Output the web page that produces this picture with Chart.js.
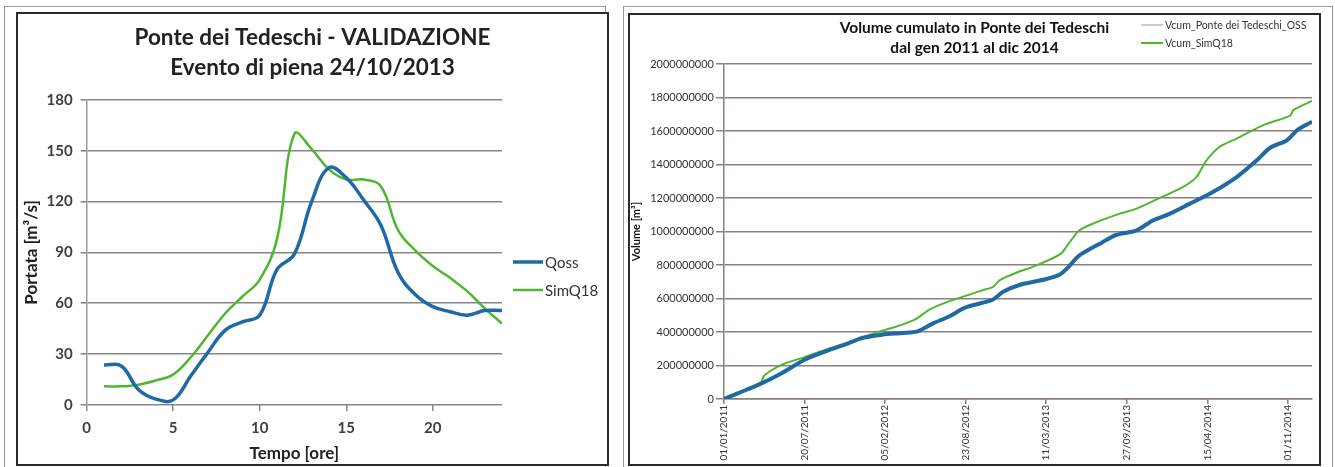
<!DOCTYPE html>
<html>
<head>
<meta charset="utf-8">
<script src="https://cdn.jsdelivr.net/npm/chart.js@4/dist/chart.umd.min.js"></script>
<style>
  body { margin: 0; background: #fff; width: 1335px; height: 467px; overflow: hidden; position: relative; }
  .outer { position: absolute; border: 1px solid #9a9a9a; }
  .frame { position: absolute; border: 2px solid #2b2b2b; background: #fff; }
  canvas { position: absolute; }
</style>
</head>
<body>
<div class="outer" style="left:4px;top:6px;width:600px;height:470px;"></div>
<div class="outer" style="left:623px;top:6px;width:708px;height:470px;"></div>
<div class="frame" style="left:16px;top:12px;width:589px;height:450px;"></div>
<div class="frame" style="left:628px;top:13px;width:689px;height:449px;"></div>
<canvas id="chartPiena" style="left:18px;top:14px;" width="589" height="450"></canvas>
<canvas id="chartVolume" style="left:630px;top:15px;" width="689" height="449"></canvas>
<script>
// ----- dati grafico sinistro (evento di piena) -----
var ore = [1, 2, 3, 4, 5, 6, 7, 8, 9, 10, 11, 12, 13, 14, 15, 16, 17, 18, 19, 20, 21, 22, 23, 24];
var qoss = [23.6, 23, 9, 3.5, 3, 17, 31, 44, 49, 53, 80, 89, 120, 140, 134, 121, 106, 78, 65, 58, 55, 53, 55.7, 55.7];
var simQ18 = [11, 11, 12, 14.5, 18, 28, 41, 54, 64, 74, 98, 160, 151, 139, 133, 133, 129, 103, 91, 82, 75, 67, 57, 48];

// ----- dati grafico destro (volume cumulato) -----
var giorniOss = [0, 40, 85, 143, 200, 252, 310, 343, 393, 443, 481, 518, 560, 598, 643, 668, 693, 739, 798, 835, 858, 881, 939, 973, 1023, 1064, 1106, 1156, 1206, 1273, 1323, 1356, 1398, 1423, 1448, 1460];
var volOss = [0, 40e6, 84e6, 154e6, 234e6, 284e6, 334e6, 364e6, 384e6, 394e6, 404e6, 450e6, 494e6, 545e6, 575e6, 594e6, 640e6, 685e6, 715e6, 745e6, 795e6, 855e6, 935e6, 979e6, 1005e6, 1065e6, 1105e6, 1165e6, 1225e6, 1325e6, 1425e6, 1500e6, 1545e6, 1605e6, 1640e6, 1655e6];
var giorniSim = [0, 50, 90, 100, 143, 200, 252, 310, 355, 402, 443, 477, 510, 560, 598, 643, 668, 685, 727, 773, 835, 858, 881, 914, 981, 1023, 1081, 1139, 1173, 1198, 1231, 1273, 1339, 1406, 1414, 1460];
var volSim = [0, 50e6, 92e6, 140e6, 204e6, 250e6, 294e6, 338e6, 378e6, 414e6, 444e6, 478e6, 534e6, 584e6, 614e6, 650e6, 670e6, 710e6, 755e6, 795e6, 865e6, 935e6, 1005e6, 1045e6, 1105e6, 1135e6, 1199e6, 1265e6, 1325e6, 1425e6, 1506e6, 1555e6, 1635e6, 1692e6, 1726e6, 1780e6];
var etichetteDate = ['01/01/2011', '20/07/2011', '05/02/2012', '23/08/2012', '11/03/2013', '27/09/2013', '15/04/2014', '01/11/2014'];

var BLU = '#1f6aa5';
var VERDE = '#4cb72f';
var FONT = 'Lato, "Open Sans", sans-serif';

function punti(xs, ys) {
    return xs.map(function (x, i) { return { x: x, y: ys[i] }; });
}

// legenda disegnata a mano in posizione fissa
const legendaFissa = {
    id: 'legendaFissa',
    afterDraw(chart, args, opts) {
        const ctx = chart.ctx;
        ctx.save();
        chart.data.datasets.forEach(function (ds, i) {
            const y = opts.y + i * opts.gap;
            ctx.strokeStyle = opts.colors ? opts.colors[i] : ds.borderColor;
            ctx.lineWidth = opts.widths ? opts.widths[i] : ds.borderWidth;
            ctx.beginPath();
            ctx.moveTo(opts.x, y);
            ctx.lineTo(opts.x + opts.len, y);
            ctx.stroke();
            ctx.fillStyle = opts.color;
            ctx.font = opts.font;
            ctx.textBaseline = 'middle';
            ctx.fillText(ds.label, opts.x + opts.len + 2, y + 1);
        });
        ctx.restore();
    }
};

// asse vuoto a destra: riserva lo spazio della legenda senza spostare il titolo
function spazioDestro(w) {
    return {
        position: 'right',
        display: true,
        ticks: { display: false },
        grid: { display: false },
        border: { display: false },
        afterFit: function (s) { s.width = w; }
    };
}

// ----- grafico sinistro -----
const configPiena = {
    type: 'line',
    data: {
        datasets: [
            { label: 'Qoss', data: punti(ore, qoss), borderColor: BLU, borderWidth: 3.5, pointRadius: 0, tension: 0.4 },
            { label: 'SimQ18', data: punti(ore, simQ18), borderColor: VERDE, borderWidth: 2.5, pointRadius: 0, tension: 0.4 }
        ]
    },
    options: {
        responsive: false,
        animation: false,
        scales: {
            x: {
                type: 'linear',
                min: 0,
                max: 24,
                ticks: { stepSize: 5, includeBounds: false, padding: 8, color: '#404040', font: { family: FONT, size: 15, weight: 'bold' } },
                grid: { drawOnChartArea: false, tickLength: 6, color: '#8a8a8a', lineWidth: 1.5 },
                border: { display: false },
                title: { display: true, text: 'Tempo [ore]', color: '#222', padding: { top: 2, bottom: 0 }, font: { family: FONT, size: 17, weight: 'bold' } },
                afterFit: function (s) { s.height = 59; }
            },
            y: {
                min: 0,
                max: 180,
                ticks: { stepSize: 30, padding: 8, color: '#404040', font: { family: FONT, size: 15, weight: 'bold' } },
                grid: { color: '#858585', lineWidth: 1.6, tickLength: 6 },
                border: { color: '#9a9a9a', width: 1.5 },
                title: { display: true, text: 'Portata [m³/s]', color: '#222', padding: { top: 3, bottom: 0 }, font: { family: FONT, size: 17, weight: 'bold' } },
                afterFit: function (s) { s.width = 68.7; }
            },
            spazio: spazioDestro(105)
        },
        plugins: {
            legend: { display: false },
            tooltip: { enabled: false },
            title: {
                display: true,
                text: ['Ponte dei Tedeschi - VALIDAZIONE', 'Evento di piena 24/10/2013'],
                color: '#222',
                padding: { top: 9, bottom: 17 },
                font: { family: FONT, size: 22.5, weight: 'bold', lineHeight: 1.33 }
            },
            legendaFissa: { x: 495, y: 248, gap: 28, len: 30, color: '#333', font: '15px ' + FONT }
        }
    },
    plugins: [legendaFissa]
};

// ----- grafico destro -----
const configVolume = {
    type: 'line',
    data: {
        datasets: [
            { label: 'Vcum_Ponte dei Tedeschi_OSS', data: punti(giorniOss, volOss), borderColor: BLU, borderWidth: 4, pointRadius: 0, tension: 0.25 },
            { label: 'Vcum_SimQ18', data: punti(giorniSim, volSim), borderColor: VERDE, borderWidth: 2, pointRadius: 0, tension: 0.25 }
        ]
    },
    options: {
        responsive: false,
        animation: false,
        scales: {
            x: {
                type: 'linear',
                min: 0,
                max: 1460,
                ticks: {
                    stepSize: 200,
                    includeBounds: false,
                    autoSkip: false,
                    minRotation: 90,
                    maxRotation: 90,
                    padding: 1,
                    color: '#333',
                    font: { family: FONT, size: 10 },
                    callback: function (v) { return etichetteDate[v / 200]; }
                },
                grid: { drawOnChartArea: false, tickLength: 5, color: '#8a7f7f', lineWidth: 1.5 },
                border: { color: '#8a7f7f', width: 1.5 },
                afterFit: function (s) { s.height = 65; }
            },
            y: {
                min: 0,
                max: 2000000000,
                ticks: {
                    stepSize: 200000000,
                    padding: 2,
                    color: '#333',
                    font: { family: FONT, size: 11 },
                    callback: function (v) { return String(v); }
                },
                grid: { color: '#8a7f7f', lineWidth: 1.5, tickLength: 8 },
                border: { color: '#8a7f7f', width: 1.5 },
                title: { display: true, text: 'Volume [m³]', color: '#111', padding: { top: 0, bottom: 0 }, font: { family: FONT, size: 11, weight: 'bold' } },
                afterFit: function (s) { s.width = 94; }
            },
            spazio: spazioDestro(7)
        },
        plugins: {
            legend: { display: false },
            tooltip: { enabled: false },
            title: {
                display: true,
                text: ['Volume cumulato in Ponte dei Tedeschi', 'dal gen 2011 al dic 2014'],
                color: '#111',
                padding: { top: 3, bottom: 6 },
                font: { family: FONT, size: 15.5, weight: 'bold', lineHeight: 1.29 }
            },
            legendaFissa: { x: 511, y: 10, gap: 18, len: 22, widths: [1, 2], colors: ['#6fa3d0', VERDE], color: '#333', font: '10.5px ' + FONT }
        }
    },
    plugins: [legendaFissa]
};

const graficoPiena = new Chart(document.getElementById('chartPiena').getContext('2d'), configPiena);
const graficoVolume = new Chart(document.getElementById('chartVolume').getContext('2d'), configVolume);
</script>
</body>
</html>
